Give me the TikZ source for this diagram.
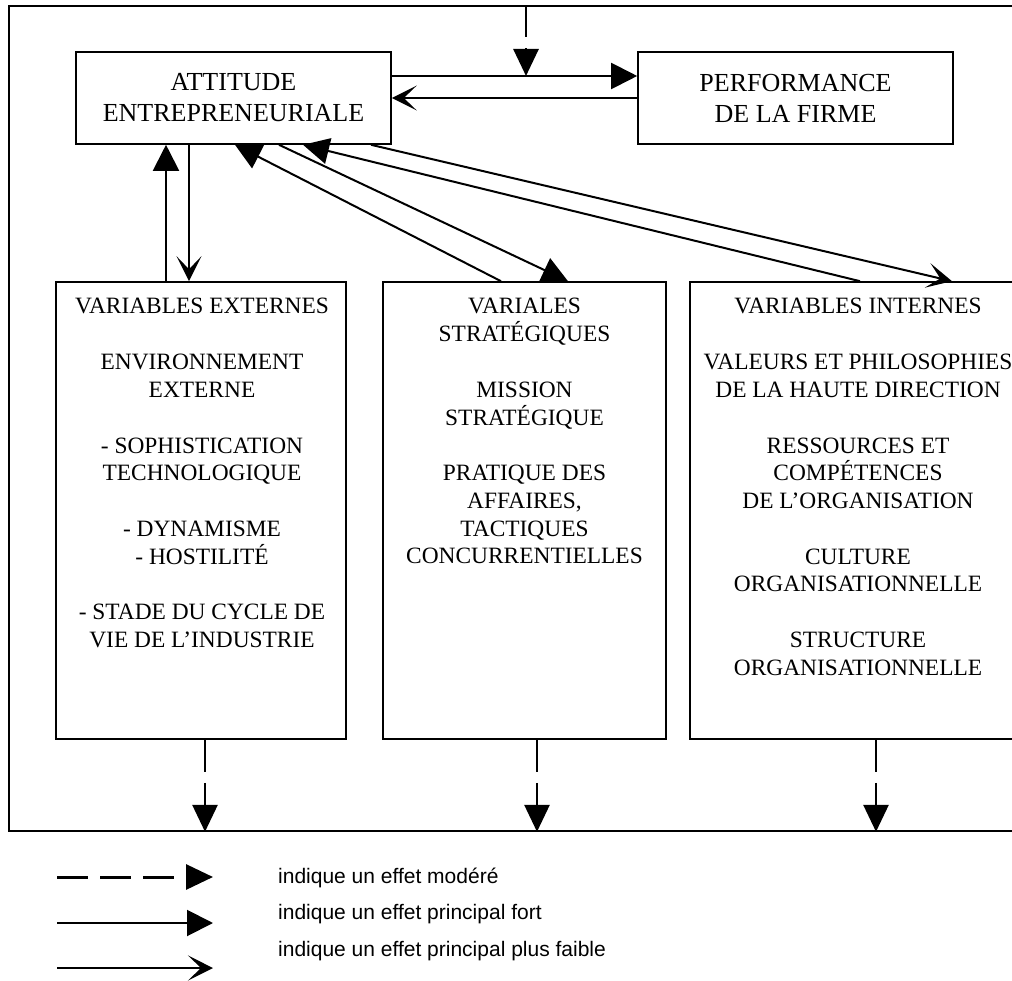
\documentclass[tikz,border=0pt]{standalone}
\usepackage{fontspec}
\setmainfont{Liberation Serif}
\newfontfamily\legfont{Liberation Sans}
\usetikzlibrary{arrows.meta}
\begin{document}
\begin{tikzpicture}[x=1pt,y=-1pt,
  box/.style={draw, line width=1.6pt, inner sep=0pt},
  topbox/.style={box, minimum width=315pt, minimum height=92pt, align=center, font=\fontsize{26}{31}\selectfont},
  tallbox/.style={box, minimum height=457pt},
  boxtext/.style={align=center, inner sep=0pt, anchor=north, font=\fontsize{23.4}{27.7}\selectfont},
  strong/.style={line width=2pt, -{Triangle[length=26pt,width=26pt]}},
  weak/.style={line width=2pt, -{Stealth[length=25pt,width=25pt,inset=13pt]}},
  moderate/.style={line width=2.8pt, dash pattern=on 32pt off 11pt, -{Triangle[length=27pt,width=25pt]}},
  legtext/.style={anchor=base west, inner sep=0pt, font=\legfont\fontsize{21}{25}\selectfont}
]
\useasboundingbox (0,0) rectangle (1012,981);
\clip (0,0) rectangle (1012,981);

% outer frame
\node[box, minimum width=1031pt, minimum height=825pt] (frame) at (524.5,418.5) {};

% boxes
\node[topbox] (att) at (233.5,98) {ATTITUDE\\ENTREPRENEURIALE};
\node[topbox] (perf) at (795.5,98) {PERFORMANCE\\DE LA FIRME};
\node[tallbox, minimum width=290pt] (ext) at (201,510.5) {};
\node[tallbox, minimum width=283pt] (strat) at (524.5,510.5) {};
\node[tallbox, minimum width=336pt] (int) at (858,510.5) {};

% box texts
\node[boxtext] (extT) at (202,298.3) {VARIABLES EXTERNES\\[28pt]ENVIRONNEMENT\\EXTERNE\\[28pt]- SOPHISTICATION\\TECHNOLOGIQUE\\[28pt]- DYNAMISME\\- HOSTILITÉ\\[28pt]- STADE DU CYCLE DE\\VIE DE L'INDUSTRIE};
\node[boxtext] (stratT) at (524.5,298.3) {VARIALES\\STRATÉGIQUES\\[28pt]MISSION\\STRATÉGIQUE\\[28pt]PRATIQUE DES\\AFFAIRES,\\TACTIQUES\\CONCURRENTIELLES};
\node[boxtext] (intT) at (858,298.3) {VARIABLES INTERNES\\[28pt]VALEURS ET PHILOSOPHIES\\DE LA HAUTE DIRECTION\\[28pt]RESSOURCES ET\\COMPÉTENCES\\DE L'ORGANISATION\\[28pt]CULTURE\\ORGANISATIONNELLE\\[28pt]STRUCTURE\\ORGANISATIONNELLE};

% top moderate arrow
\coordinate (tx) at (526,76);
\draw[moderate] (tx |- frame.north) -- (tx);

% attitude <-> performance
\draw[strong] ([yshift=22pt]att.east) -- ([yshift=22pt]perf.west);
\draw[weak] (perf.west) -- (att.east);

% attitude <-> external
\draw[strong] ([xshift=-35pt]ext.north) -- ([xshift=-67.5pt]att.south);
\draw[weak] ([xshift=-44.5pt]att.south) -- ([xshift=-12pt]ext.north);

% attitude <-> strategic
\draw[strong] ([xshift=-23.5pt]strat.north) -- ([xshift=1.5pt]att.south);
\draw[strong] ([xshift=45.5pt]att.south) -- ([xshift=43.5pt]strat.north);

% attitude <-> internal
\draw[strong] ([xshift=2pt]int.north) -- ([xshift=69.5pt]att.south);
\draw[weak] ([xshift=137.5pt]att.south) -- ([xshift=94pt]int.north);

% bottom moderate arrows
\coordinate (e1) at ([xshift=4pt]ext.south);
\coordinate (e2) at ([xshift=12.5pt]strat.south);
\coordinate (e3) at ([xshift=18pt]int.south);
\draw[moderate] (e1) -- (e1 |- frame.south);
\draw[moderate] (e2) -- (e2 |- frame.south);
\draw[moderate] (e3) -- (e3 |- frame.south);

% legend
\coordinate (l1a) at (57,877); \coordinate (l1b) at (213,877);
\coordinate (l2a) at (57,923); \coordinate (l2b) at (213,923);
\coordinate (l3a) at (57,968); \coordinate (l3b) at (213,968);
\draw[moderate, line width=3pt, dash pattern=on 31pt off 12pt] (l1a) -- (l1b);
\draw[strong] (l2a) -- (l2b);
\draw[weak] (l3a) -- (l3b);
\node[legtext] (t1) at (278,883) {indique un effet modéré};
\node[legtext] (t2) at (278,919) {indique un effet principal fort};
\node[legtext] (t3) at (278,956) {indique un effet principal plus faible};
\end{tikzpicture}
\end{document}
